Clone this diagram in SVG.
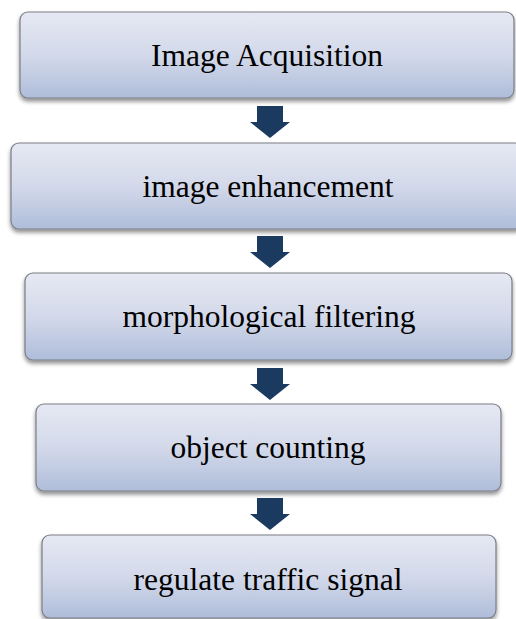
<svg xmlns="http://www.w3.org/2000/svg" width="516" height="619" viewBox="0 0 516 619">
<defs>
<linearGradient id="g" x1="0" y1="0" x2="0" y2="1">
<stop offset="0" stop-color="#e6e9f3"/>
<stop offset="0.5" stop-color="#d3d9ea"/>
<stop offset="1" stop-color="#afbdda"/>
</linearGradient>
<filter id="sh" x="-5%" y="-10%" width="110%" height="130%">
<feGaussianBlur in="SourceAlpha" stdDeviation="2"/>
<feOffset dx="0" dy="3" result="b"/>
<feComponentTransfer><feFuncA type="linear" slope="0.45"/></feComponentTransfer>
<feMerge><feMergeNode/><feMergeNode in="SourceGraphic"/></feMerge>
</filter>
</defs>
<style>
.box{fill:url(#g);stroke:#7a7d85;stroke-width:1.2;filter:url(#sh)}
.lbl{font-family:"Liberation Serif","Times New Roman",serif;font-size:31.5px;fill:#000;text-anchor:middle}
.arr{fill:#1b3a60}
</style>
<rect width="516" height="619" fill="#fff"/>
<g id="connectors">
<polygon class="arr" points="257,106 283,106 283,122 290,122 270,138 250,122 257,122"/>
<polygon class="arr" points="257,236 283,236 283,252 290,252 270,268 250,252 257,252"/>
<polygon class="arr" points="257,368 283,368 283,384 290,384 270,400 250,384 257,384"/>
<polygon class="arr" points="257,498 283,498 283,514 290,514 270,530 250,514 257,514"/>
</g>
<g id="n1">
<rect class="box" x="20" y="12" width="494" height="86" rx="8"/>
<text class="lbl" x="267" y="66">Image Acquisition</text>
</g>
<g id="n2">
<rect class="box" x="11" y="143" width="512" height="86" rx="8"/>
<text class="lbl" x="268" y="197">image enhancement</text>
</g>
<g id="n3">
<rect class="box" x="25" y="273" width="487" height="87" rx="8"/>
<text class="lbl" x="269" y="327">morphological filtering</text>
</g>
<g id="n4">
<rect class="box" x="36" y="404" width="465" height="87" rx="8"/>
<text class="lbl" x="268" y="458">object counting</text>
</g>
<g id="n5">
<rect class="box" x="42" y="535" width="454" height="83" rx="8"/>
<text class="lbl" x="268" y="590">regulate traffic signal</text>
</g>
</svg>
